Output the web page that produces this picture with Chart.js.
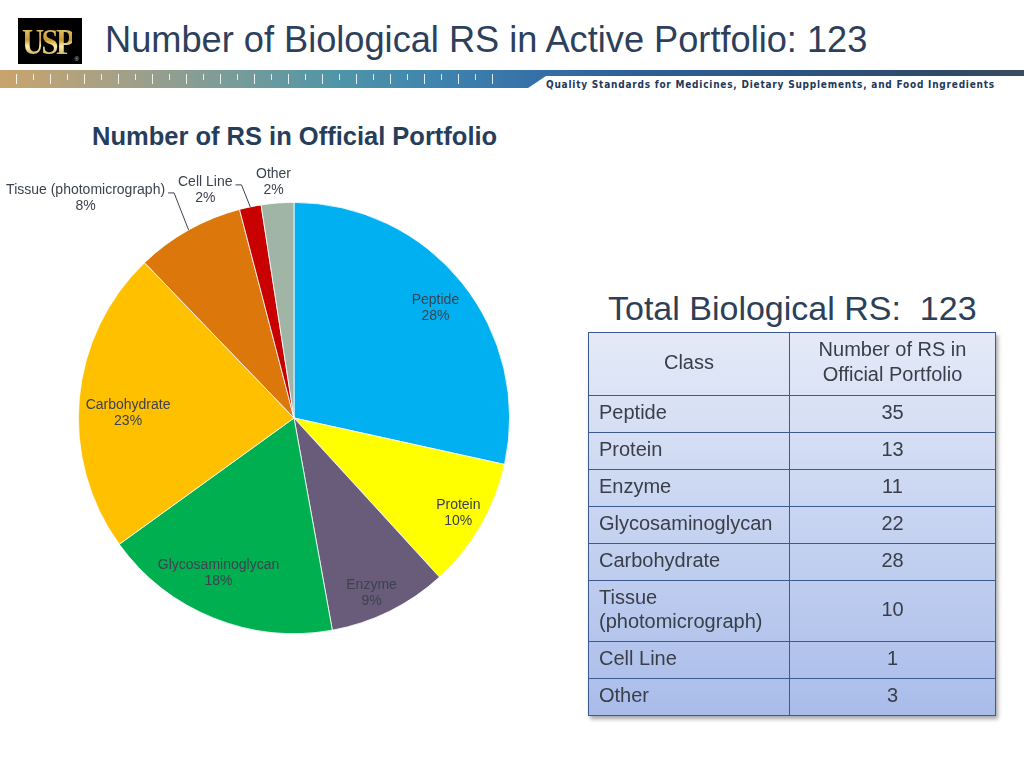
<!DOCTYPE html>
<html>
<head>
<meta charset="utf-8">
<script src="https://cdn.jsdelivr.net/npm/chart.js@4.4.1/dist/chart.umd.min.js"></script>
<style>
  body { margin: 0; width: 1024px; height: 768px; background: #fff; position: relative; overflow: hidden;
         font-family: "Liberation Sans", Arial, Helvetica, sans-serif; }
  #logo { position: absolute; left: 18px; top: 18px; width: 64px; height: 46px; background: #000; }
  #logo span { position: absolute; left: 4px; top: 3px; font-family: "Liberation Serif", serif; font-weight: bold;
               font-size: 36px; letter-spacing: -3px; transform: scaleX(0.85); transform-origin: left;
               background: linear-gradient(#f7e08a, #c99a2e 45%, #fff1a8 60%, #a07418);
               -webkit-background-clip: text; color: transparent; }
  #logo i { position: absolute; right: 3px; bottom: 2px; font-size: 6px; color: #ddd; font-style: normal; }
  #title { position: absolute; left: 105px; top: 19px; font-size: 36.2px; color: #2c405c; white-space: nowrap; }
  #band { position: absolute; left: 0; top: 70px; width: 1024px; height: 18px;
          background: linear-gradient(90deg, #c9a46c 0%, #a3a088 12%, #7c9c98 22%, #4f95a8 33%, #3e84ae 43%,
                      #3671a8 52%, #2f5f98 62%, #2d5482 78%, #2f4a66 92%, #3a4c60 100%);
          clip-path: polygon(0 0, 100% 0, 100% 6px, 546px 6px, 528px 100%, 0 100%); }
  .ticks { position: absolute; left: 16px; top: 74px; width: 500px; }
  #ticksLong { height: 10px; background: repeating-linear-gradient(90deg, rgba(255,255,255,0.85) 0 1px, transparent 1px 34px); }
  #ticksShort { left: 33px; height: 6px; width: 470px; background: repeating-linear-gradient(90deg, rgba(255,255,255,0.8) 0 1px, transparent 1px 34px); }
  #tagline { position: absolute; left: 546px; top: 79px; font-family: "DejaVu Sans Condensed", "DejaVu Sans", sans-serif;
             font-weight: bold; font-size: 10px; color: #22385a; white-space: nowrap; }
  #subtitle { position: absolute; left: 92px; top: 122px; font-size: 25.5px; font-weight: bold; color: #263e5c; white-space: nowrap; }
  #pieBox { position: absolute; left: 0; top: 150px; width: 588px; height: 536px; }
  #total { position: absolute; left: 608px; top: 289px; font-size: 34px; color: #2d4058; white-space: nowrap; }
  table { position: absolute; left: 588px; top: 332px; width: 408px; border-collapse: collapse;
          background: linear-gradient(#e4eaf7, #a9bcea); box-shadow: 2px 3px 4px rgba(0,0,0,0.35);
          font-size: 20px; color: #393e47; }
  td, th { border: 1px solid #3c5990; padding: 6px 10px 6px 10px; line-height: 24px; font-weight: normal; }
  td { padding: 4px 10px 8px 10px; }
  th { text-align: center; padding: 4px 10px 8px 10px; line-height: 25px; }
  td.n { text-align: center; }
  td.c { width: 180px; }
</style>
</head>
<body>
<div id="logo"><span>USP</span><i>®</i></div>
<div id="title">Number of Biological RS in Active Portfolio: 123</div>
<div id="band"></div>
<div class="ticks" id="ticksLong"></div>
<div class="ticks" id="ticksShort"></div>
<div id="tagline">Quality Standards for Medicines, Dietary Supplements, and Food Ingredients</div>
<div id="subtitle">Number of RS in Official Portfolio</div>
<div id="pieBox"><canvas id="pie"></canvas></div>
<div id="total">Total Biological RS:&nbsp; 123</div>
<table id="tbl"></table>

<script>
const classes = ["Peptide", "Protein", "Enzyme", "Glycosaminoglycan", "Carbohydrate",
                 "Tissue (photomicrograph)", "Cell Line", "Other"];
// counts shown in the table
const tableCounts = [35, 13, 11, 22, 28, 10, 1, 3];
// the pie itself was drawn from slightly different counts (10% protein, 2% cell line)
const pieCounts = [35, 12, 11, 22, 28, 10, 2, 3];
const colors = ["#00b0f0", "#ffff00", "#685c7a", "#00b050", "#ffc000", "#db770b", "#c80000", "#a1b5a7"];

// table
const tbl = document.getElementById("tbl");
let html = "<tr><th>Class</th><th>Number of RS in<br>Official Portfolio</th></tr>";
classes.forEach((c, i) => {
  html += `<tr><td class="c">${c}</td><td class="n">${tableCounts[i]}</td></tr>`;
});
tbl.innerHTML = html;

// fit the tagline to its width
const tag = document.getElementById("tagline");
const tw = tag.getBoundingClientRect().width;
tag.style.letterSpacing = ((449 - tw) / tag.textContent.length) + "px";

// label placement: inside slices (fraction of radius, angle nudge in degrees), or outside with an offset
const labelPlace = [
  { r: 0.83, da: 1 }, { r: 0.88, da: 0 }, { r: 0.89, da: 2.5 }, { r: 0.80, da: 4 }, { r: 0.77, da: -3.3 },
  { dx: -103, dy: -32, leader: true },
  { dx: -45, dy: -17, leader: true },
  { dx: -4, dy: -21 },
];

const sliceLabels = {
  id: "sliceLabels",
  afterDatasetsDraw(chart) {
    const ctx = chart.ctx;
    const meta = chart.getDatasetMeta(0);
    const total = pieCounts.reduce((a, b) => a + b, 0);
    ctx.save();
    ctx.font = '14px "Liberation Sans", Arial, sans-serif';
    ctx.fillStyle = "#3c4250";
    ctx.textAlign = "center";
    ctx.textBaseline = "middle";
    meta.data.forEach((arc, i) => {
      const p = arc.getProps(["x", "y", "startAngle", "endAngle", "outerRadius"], true);
      const mid = (p.startAngle + p.endAngle) / 2;
      const pct = Math.round(pieCounts[i] / total * 100) + "%";
      const place = labelPlace[i];
      let cx, cy;
      if (place.r) {
        const a = mid + place.da * Math.PI / 180;
        cx = p.x + Math.cos(a) * p.outerRadius * place.r;
        cy = p.y + Math.sin(a) * p.outerRadius * place.r;
      } else {
        const ax = p.x + Math.cos(mid) * p.outerRadius;
        const ay = p.y + Math.sin(mid) * p.outerRadius;
        cx = ax + place.dx;
        cy = ay + place.dy;
        if (place.leader) {
          const right = cx + ctx.measureText(classes[i]).width / 2;
          const ly = cy - 5;
          ctx.strokeStyle = "#3c4250";
          ctx.lineWidth = 1;
          ctx.beginPath();
          ctx.moveTo(right + 3, ly);
          ctx.lineTo(right + 9, ly);
          ctx.lineTo(ax, ay);
          ctx.stroke();
        }
      }
      ctx.fillText(classes[i], cx, cy - 8);
      ctx.fillText(pct, cx, cy + 8);
    });
    ctx.restore();
  },
};

new Chart(document.getElementById("pie"), {
  type: "pie",
  data: {
    labels: classes,
    datasets: [{
      data: pieCounts,
      backgroundColor: colors,
      borderColor: "#ffffff",
      borderWidth: 0.8,
    }],
  },
  options: {
    responsive: true,
    maintainAspectRatio: false,
    animation: false,
    layout: { padding: { top: 52, bottom: 52 } },
    plugins: {
      legend: { display: false },
      tooltip: { enabled: false },
    },
  },
  plugins: [sliceLabels],
});
</script>
</body>
</html>
